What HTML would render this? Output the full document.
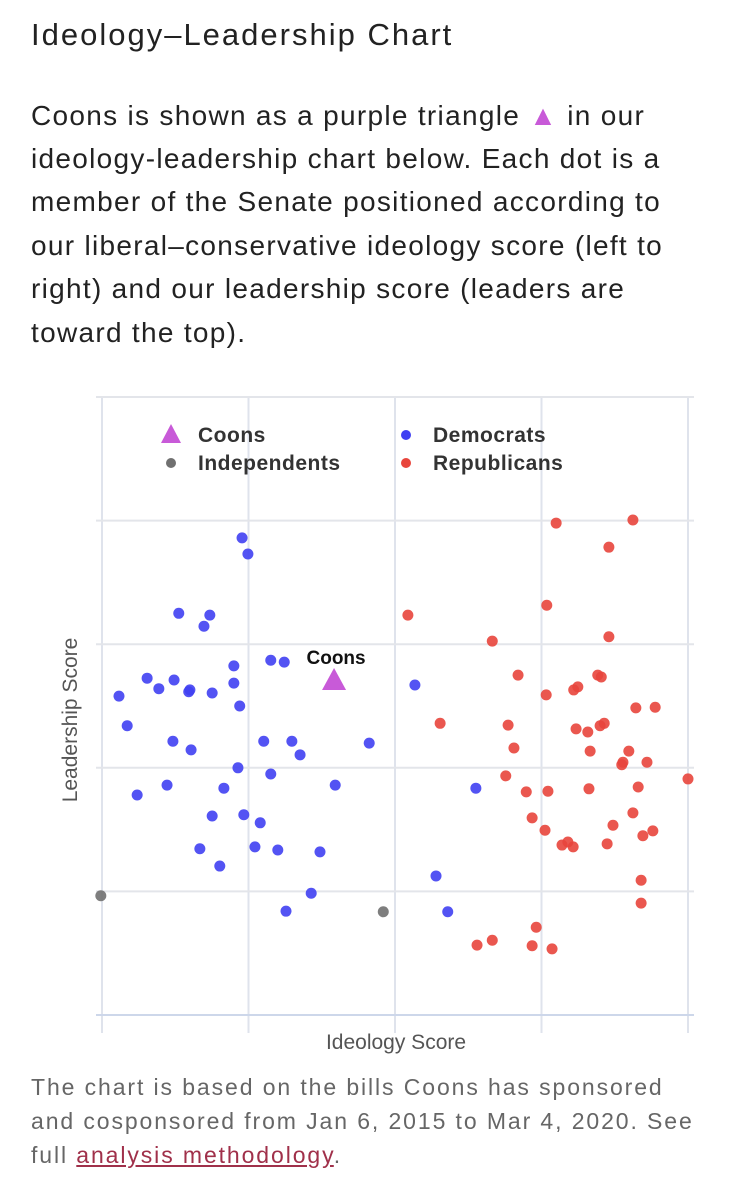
<!DOCTYPE html>
<html><head><meta charset="utf-8"><style>
body{margin:0;width:745px;height:1200px;background:#fff;font-family:"Liberation Sans",sans-serif;color:#222;overflow:hidden;position:relative}
.t{position:absolute;left:31px;white-space:nowrap}
#title{top:17px;font-size:31px;font-weight:300;color:#222;letter-spacing:2px}
.p{font-size:28px;color:#222;letter-spacing:1.3px}
.f{font-size:23px;color:#666;letter-spacing:1.9px}
a{color:#a0304a}
</style></head><body>
<div class="t" id="title">Ideology–Leadership Chart</div>
<div>
<div class="t p" style="top:100px">Coons is shown as a purple triangle <span style="color:#c85ad8">▲</span> in our</div>
<div class="t p" style="top:143px">ideology-leadership chart below. Each dot is a</div>
<div class="t p" style="top:186px">member of the Senate positioned according to</div>
<div class="t p" style="top:230px">our liberal–conservative ideology score (left to</div>
<div class="t p" style="top:273px">right) and our leadership score (leaders are</div>
<div class="t p" style="top:317px">toward the top).</div>
</div>
<svg id="chart" width="745" height="1070" style="position:absolute;left:0;top:0" xmlns="http://www.w3.org/2000/svg"></svg>
<div>
<div class="t f" style="top:1074px">The chart is based on the bills Coons has sponsored</div>
<div class="t f" style="top:1108px">and cosponsored from Jan 6, 2015 to Mar 4, 2020. See</div>
<div class="t f" style="top:1142px">full <a href="#">analysis methodology</a>.</div>
</div>
<script>
const xTicks=[0,25,50,75,100];
const yTicks=[0,20,40,60,80,100];
const demX=[23.9,24.9,13.1,18.4,17.4,28.8,31.1,22.5,7.7,15.0,12.3,9.7,14.8,18.8,22.5,2.9,23.5,4.3,12.1,27.6,32.4,15.2,33.8,45.6,23.2,28.8,39.8,11.1,20.8,6.0,53.4,18.8,24.2,27.0,16.7,26.1,30.0,37.2,20.1,35.7,31.4,63.8,57.0,59.0];
const demY=[77.2,74.6,65.0,64.7,62.9,57.4,57.1,56.5,54.5,52.6,54.2,52.8,52.3,52.1,53.7,51.6,50.0,46.8,44.3,44.3,44.3,42.9,42.1,44.0,40.0,39.0,37.2,37.2,36.7,35.6,53.4,32.2,32.4,31.1,26.9,27.2,26.7,26.4,24.1,19.7,16.8,36.7,22.5,16.7];
const indX=[-0.2,48.0];
const indY=[19.3,16.7];
const repX=[77.5,90.6,86.5,75.9,52.2,66.6,86.5,57.7,71.0,75.8,80.5,81.2,84.6,85.2,91.1,94.4,69.3,80.9,82.9,85.0,85.7,70.3,83.3,89.9,88.9,88.7,93.0,68.9,72.4,76.1,83.1,91.5,100,73.4,75.6,90.6,87.2,78.5,80.4,79.5,86.2,92.3,94.0,92.0,92.0,74.1,66.6,64.0,73.4,76.8];
const repY=[79.6,80.1,75.7,66.3,64.7,60.5,61.2,47.2,55.0,51.8,52.6,53.1,55.0,54.7,49.7,49.8,46.9,46.3,45.8,46.8,47.2,43.2,42.7,42.7,40.9,40.5,40.9,38.7,36.1,36.2,36.6,36.9,38.2,31.9,29.9,32.7,30.7,27.5,27.2,28.0,27.7,29.0,29.8,21.8,18.1,14.2,12.1,11.3,11.2,10.7];
const coonsX=[39.6];
const coonsY=[54.2];

const X0=102,X1=688,Y0=1015,Y1=397;
const sx=v=>X0+(v-0)/100*(X1-X0);
const sy=v=>Y0-(v-0)/100*(Y0-Y1);
const svg=document.getElementById('chart');
const NS='http://www.w3.org/2000/svg';
function mk(tag,attrs){const e=document.createElementNS(NS,tag);for(const k in attrs)e.setAttribute(k,attrs[k]);svg.appendChild(e);return e;}
xTicks.forEach(t=>{
  const l=mk('line',{x1:sx(t),x2:sx(t),y1:Y1,y2:Y0+18,stroke:'#dfe3ec','stroke-width':2});
  
  
});
yTicks.forEach(t=>{
  const l=mk('line',{x1:96,x2:694,y1:sy(t),y2:sy(t),stroke:t===0?'#cdd7ea':'#e3e5ea','stroke-width':2});
  
  
});
function dots(xs,ys,color,name){
  xs.forEach((x,i)=>{
    const c=mk('circle',{cx:sx(x),cy:sy(ys[i]),r:5.5,fill:color,'fill-opacity':0.9});
    
    
  });
}
dots(demX,demY,'#4040f2','democrat-dot');
dots(repX,repY,'#e8453c','republican-dot');
dots(indX,indY,'#707070','independent-dot');
coonsX.forEach((x,i)=>{
  const cx=sx(x),cy=sy(coonsY[i]);
  const p=mk('polygon',{points:`${cx},${cy-12} ${cx-12},${cy+10} ${cx+12},${cy+10}`,fill:'#c85ad8'});
  
  
  const t=mk('text',{x:cx+2,y:cy-16,'text-anchor':'middle','font-size':19,'font-weight':'bold',fill:'#111','font-family':'Liberation Sans, sans-serif'});
  t.textContent='Coons';
  
  
});
const lg=[['tri',171,435,'#c85ad8','Coons'],['dot',171,463,'#707070','Independents'],['dot',406,435,'#4040f2','Democrats'],['dot',406,463,'#e8453c','Republicans']];
lg.forEach(d=>{
  let m;
  if(d[0]==='tri')m=mk('polygon',{points:`${d[1]},${d[2]-11} ${d[1]-10},${d[2]+8} ${d[1]+10},${d[2]+8}`,fill:d[3]});
  else m=mk('circle',{cx:d[1],cy:d[2],r:5,fill:d[3]});
  
  
  const t=mk('text',{x:d[1]+27,y:d[2]+7,'font-size':21,'font-weight':'bold',fill:'#333','letter-spacing':0.5,'font-family':'Liberation Sans, sans-serif'});
  t.textContent=d[4];
  
  
});
const xl=mk('text',{x:396,y:1049,'text-anchor':'middle','font-size':21,fill:'#555','font-family':'Liberation Sans, sans-serif'});
xl.textContent='Ideology Score';


const yl=mk('text',{x:0,y:0,'text-anchor':'middle','font-size':21,fill:'#555','font-family':'Liberation Sans, sans-serif',transform:'translate(77,720) rotate(-90)'});
yl.textContent='Leadership Score';


</script>
</body></html>
